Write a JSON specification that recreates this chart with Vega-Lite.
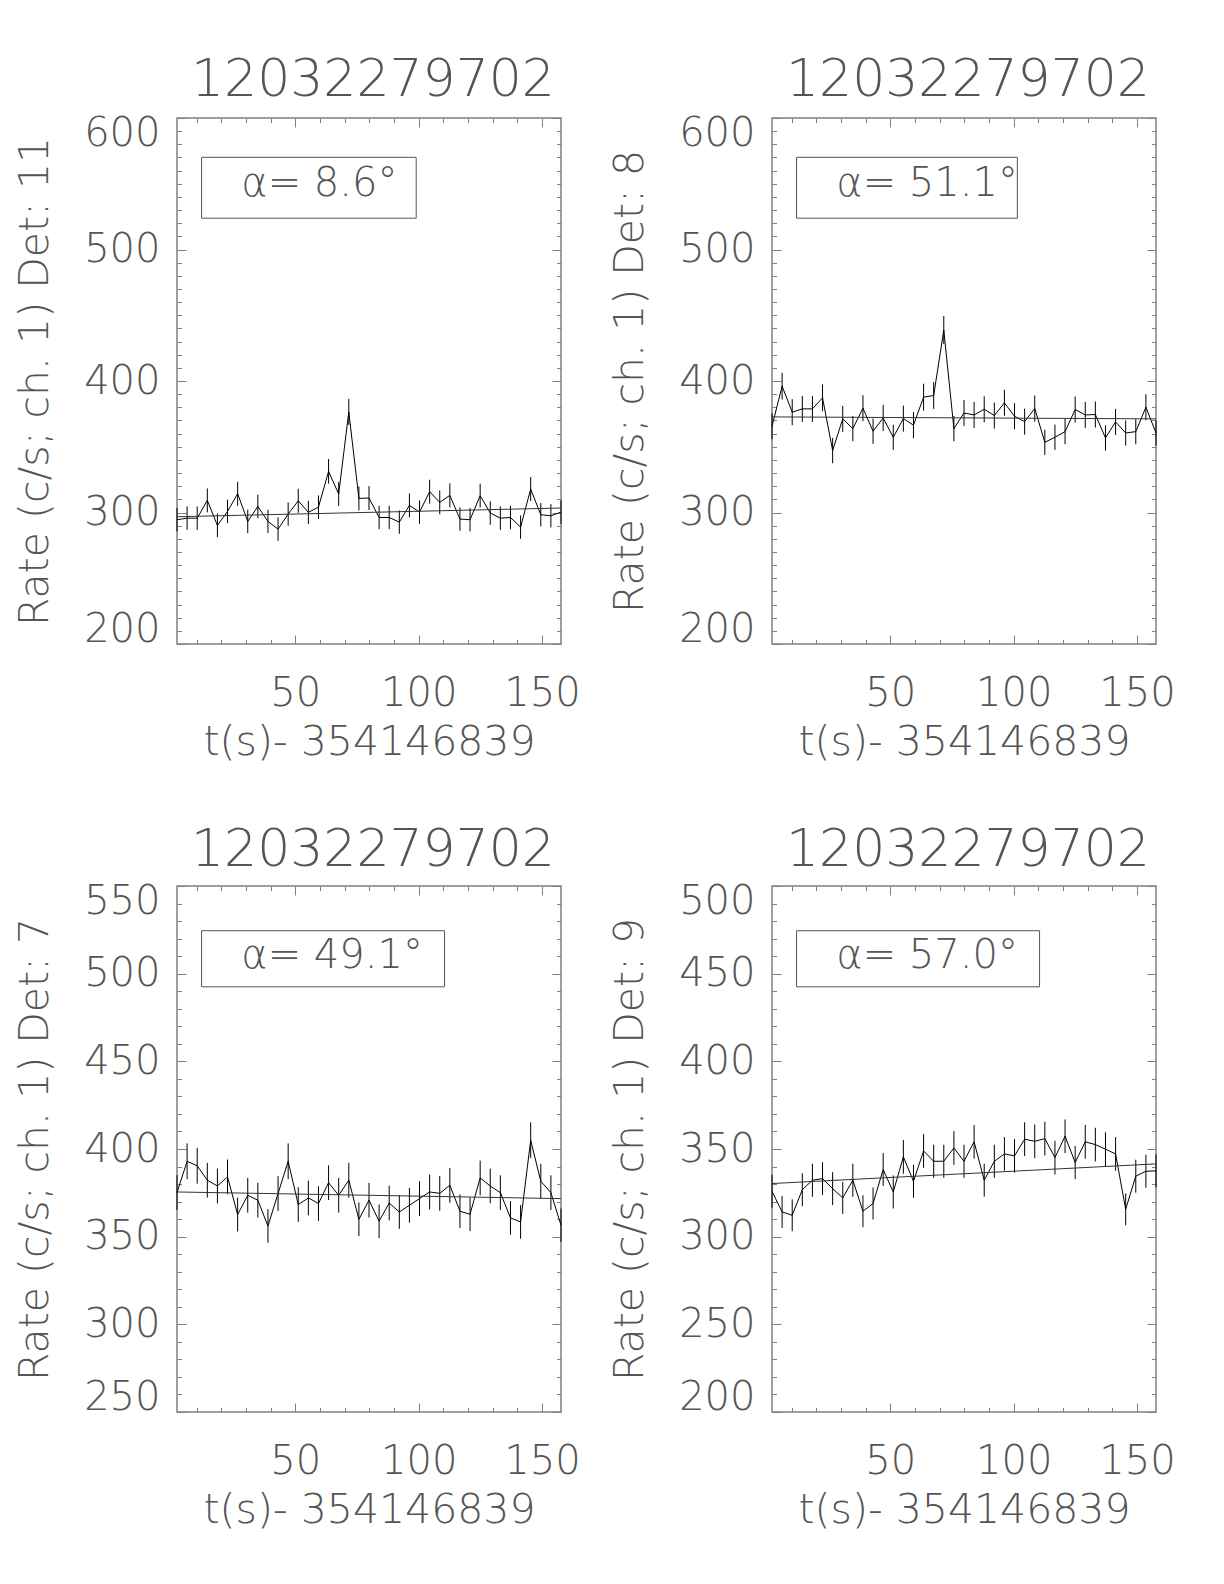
{
  "$schema": "https://vega.github.io/schema/vega-lite/v6.json",
  "padding": {"left": 13, "top": 53, "right": 5, "bottom": 5},
  "bounds": "flush",
  "spacing": {"row": 242, "column": 211},
  "columns": 2,
  "datasets": {
    "pts": [
      {"p":"11","t":2.048,"rate":294.5,"err":8.9},{"p":"11","t":6.144,"rate":295.7,"err":8.9},{"p":"11","t":10.24,"rate":295.7,"err":8.9},{"p":"11","t":14.336,"rate":309.2,"err":9.1},{"p":"11","t":18.432,"rate":290.2,"err":8.9},{"p":"11","t":22.528,"rate":300.8,"err":8.9},{"p":"11","t":26.624,"rate":314.3,"err":9.1},{"p":"11","t":30.72,"rate":293.2,"err":8.9},{"p":"11","t":34.816,"rate":304.6,"err":8.9},{"p":"11","t":38.912,"rate":293.2,"err":8.9},
      {"p":"11","t":43.008,"rate":287.4,"err":8.9},{"p":"11","t":47.104,"rate":298.8,"err":8.9},{"p":"11","t":51.2,"rate":308.9,"err":9.1},{"p":"11","t":55.296,"rate":300.1,"err":8.9},{"p":"11","t":59.392,"rate":304.1,"err":8.9},{"p":"11","t":63.488,"rate":331.3,"err":9.4},{"p":"11","t":67.584,"rate":314.0,"err":9.1},{"p":"11","t":71.68,"rate":376.5,"err":9.9},{"p":"11","t":75.776,"rate":310.7,"err":9.1},{"p":"11","t":79.872,"rate":311.0,"err":9.1},
      {"p":"11","t":83.968,"rate":296.2,"err":8.9},{"p":"11","t":88.064,"rate":296.2,"err":8.9},{"p":"11","t":92.16,"rate":292.7,"err":8.9},{"p":"11","t":96.256,"rate":305.4,"err":9.1},{"p":"11","t":100.352,"rate":300.3,"err":8.9},{"p":"11","t":104.448,"rate":315.8,"err":9.1},{"p":"11","t":108.544,"rate":307.7,"err":9.1},{"p":"11","t":112.64,"rate":313.0,"err":9.1},{"p":"11","t":116.736,"rate":295.0,"err":8.9},{"p":"11","t":120.832,"rate":294.5,"err":8.9},
      {"p":"11","t":124.928,"rate":312.8,"err":9.1},{"p":"11","t":129.024,"rate":299.6,"err":8.9},{"p":"11","t":133.12,"rate":295.7,"err":8.9},{"p":"11","t":137.216,"rate":296.2,"err":8.9},{"p":"11","t":141.312,"rate":288.9,"err":8.9},{"p":"11","t":145.408,"rate":317.8,"err":9.1},{"p":"11","t":149.504,"rate":298.3,"err":8.9},{"p":"11","t":153.6,"rate":297.5,"err":8.9},{"p":"11","t":157.696,"rate":300.3,"err":8.9},

      {"p":"8","t":2.048,"rate":365.6,"err":9.9},{"p":"8","t":6.144,"rate":396.1,"err":10.2},{"p":"8","t":10.24,"rate":376.3,"err":9.9},{"p":"8","t":14.336,"rate":378.8,"err":9.9},{"p":"8","t":18.432,"rate":378.8,"err":9.9},{"p":"8","t":22.528,"rate":387.2,"err":10.2},{"p":"8","t":26.624,"rate":347.1,"err":9.6},{"p":"8","t":30.72,"rate":371.2,"err":9.9},{"p":"8","t":34.816,"rate":363.8,"err":9.6},{"p":"8","t":38.912,"rate":379.3,"err":9.9},
      {"p":"8","t":43.008,"rate":361.8,"err":9.6},{"p":"8","t":47.104,"rate":371.9,"err":9.9},{"p":"8","t":51.2,"rate":357.2,"err":9.6},{"p":"8","t":55.296,"rate":371.4,"err":9.9},{"p":"8","t":59.392,"rate":366.4,"err":9.9},{"p":"8","t":63.488,"rate":387.7,"err":10.2},{"p":"8","t":67.584,"rate":389.0,"err":10.2},{"p":"8","t":71.68,"rate":438.7,"err":10.7},{"p":"8","t":75.776,"rate":363.8,"err":9.6},{"p":"8","t":79.872,"rate":375.7,"err":9.9},
      {"p":"8","t":83.968,"rate":374.2,"err":9.9},{"p":"8","t":88.064,"rate":378.5,"err":9.9},{"p":"8","t":92.16,"rate":373.7,"err":9.9},{"p":"8","t":96.256,"rate":383.4,"err":9.9},{"p":"8","t":100.352,"rate":373.2,"err":9.9},{"p":"8","t":104.448,"rate":369.1,"err":9.9},{"p":"8","t":108.544,"rate":379.1,"err":9.9},{"p":"8","t":112.64,"rate":353.4,"err":9.6},{"p":"8","t":116.736,"rate":357.2,"err":9.6},{"p":"8","t":120.832,"rate":361.5,"err":9.6},
      {"p":"8","t":124.928,"rate":378.3,"err":9.9},{"p":"8","t":129.024,"rate":374.2,"err":9.9},{"p":"8","t":133.12,"rate":374.5,"err":9.9},{"p":"8","t":137.216,"rate":356.7,"err":9.6},{"p":"8","t":141.312,"rate":368.9,"err":9.9},{"p":"8","t":145.408,"rate":360.5,"err":9.6},{"p":"8","t":149.504,"rate":361.5,"err":9.6},{"p":"8","t":153.6,"rate":380.1,"err":9.9},{"p":"8","t":157.696,"rate":360.5,"err":9.6},

      {"p":"7","t":2.048,"rate":375.1,"err":9.9},{"p":"7","t":6.144,"rate":393.0,"err":10.2},{"p":"7","t":10.24,"rate":390.4,"err":10.2},{"p":"7","t":14.336,"rate":382.2,"err":9.9},{"p":"7","t":18.432,"rate":378.9,"err":9.9},{"p":"7","t":22.528,"rate":384.1,"err":9.9},{"p":"7","t":26.624,"rate":362.6,"err":9.6},{"p":"7","t":30.72,"rate":373.6,"err":9.9},{"p":"7","t":34.816,"rate":370.8,"err":9.9},{"p":"7","t":38.912,"rate":356.1,"err":9.6},
      {"p":"7","t":43.008,"rate":374.6,"err":9.9},{"p":"7","t":47.104,"rate":393.0,"err":10.2},{"p":"7","t":51.2,"rate":368.3,"err":9.9},{"p":"7","t":55.296,"rate":372.1,"err":9.9},{"p":"7","t":59.392,"rate":368.9,"err":9.9},{"p":"7","t":63.488,"rate":380.8,"err":9.9},{"p":"7","t":67.584,"rate":373.6,"err":9.9},{"p":"7","t":71.68,"rate":382.2,"err":9.9},{"p":"7","t":75.776,"rate":359.9,"err":9.6},{"p":"7","t":79.872,"rate":370.8,"err":9.9},
      {"p":"7","t":83.968,"rate":358.8,"err":9.6},{"p":"7","t":88.064,"rate":369.2,"err":9.9},{"p":"7","t":92.16,"rate":364.1,"err":9.6},{"p":"7","t":96.256,"rate":367.9,"err":9.9},{"p":"7","t":100.352,"rate":371.7,"err":9.9},{"p":"7","t":104.448,"rate":375.5,"err":9.9},{"p":"7","t":108.544,"rate":374.7,"err":9.9},{"p":"7","t":112.64,"rate":379.3,"err":9.9},{"p":"7","t":116.736,"rate":364.5,"err":9.6},{"p":"7","t":120.832,"rate":362.8,"err":9.6},
      {"p":"7","t":124.928,"rate":383.5,"err":9.9},{"p":"7","t":129.024,"rate":378.9,"err":9.9},{"p":"7","t":133.12,"rate":375.1,"err":9.9},{"p":"7","t":137.216,"rate":360.7,"err":9.6},{"p":"7","t":141.312,"rate":358.4,"err":9.6},{"p":"7","t":145.408,"rate":405.0,"err":10.2},{"p":"7","t":149.504,"rate":381.6,"err":9.9},{"p":"7","t":153.6,"rate":375.1,"err":9.9},{"p":"7","t":157.696,"rate":356.5,"err":9.6},

      {"p":"9","t":2.048,"rate":325.9,"err":9.4},{"p":"9","t":6.144,"rate":314.1,"err":9.1},{"p":"9","t":10.24,"rate":312.2,"err":9.1},{"p":"9","t":14.336,"rate":326.8,"err":9.4},{"p":"9","t":18.432,"rate":332.2,"err":9.4},{"p":"9","t":22.528,"rate":333.1,"err":9.4},{"p":"9","t":26.624,"rate":327.4,"err":9.4},{"p":"9","t":30.72,"rate":322.1,"err":9.1},{"p":"9","t":34.816,"rate":332.2,"err":9.4},{"p":"9","t":38.912,"rate":314.5,"err":9.1},
      {"p":"9","t":43.008,"rate":318.9,"err":9.1},{"p":"9","t":47.104,"rate":338.3,"err":9.4},{"p":"9","t":51.2,"rate":325.5,"err":9.4},{"p":"9","t":55.296,"rate":345.5,"err":9.6},{"p":"9","t":59.392,"rate":331.6,"err":9.4},{"p":"9","t":63.488,"rate":348.9,"err":9.6},{"p":"9","t":67.584,"rate":343.0,"err":9.4},{"p":"9","t":71.68,"rate":343.0,"err":9.4},{"p":"9","t":75.776,"rate":350.6,"err":9.6},{"p":"9","t":79.872,"rate":343.0,"err":9.4},
      {"p":"9","t":83.968,"rate":354.1,"err":9.6},{"p":"9","t":88.064,"rate":332.2,"err":9.4},{"p":"9","t":92.16,"rate":343.0,"err":9.4},{"p":"9","t":96.256,"rate":347.2,"err":9.6},{"p":"9","t":100.352,"rate":346.1,"err":9.6},{"p":"9","t":104.448,"rate":355.6,"err":9.6},{"p":"9","t":108.544,"rate":354.4,"err":9.6},{"p":"9","t":112.64,"rate":355.9,"err":9.6},{"p":"9","t":116.736,"rate":345.1,"err":9.6},{"p":"9","t":120.832,"rate":357.3,"err":9.6},
      {"p":"9","t":124.928,"rate":342.3,"err":9.4},{"p":"9","t":129.024,"rate":354.1,"err":9.6},{"p":"9","t":133.12,"rate":352.5,"err":9.6},{"p":"9","t":137.216,"rate":349.9,"err":9.6},{"p":"9","t":141.312,"rate":347.2,"err":9.6},{"p":"9","t":145.408,"rate":315.6,"err":9.1},{"p":"9","t":149.504,"rate":334.5,"err":9.4},{"p":"9","t":153.6,"rate":337.3,"err":9.4},{"p":"9","t":157.696,"rate":337.5,"err":9.4}
    ],
    "fit": [
      {"p":"11","t":2.048,"fit":296.8},{"p":"11","t":157.696,"fit":303.4},
      {"p":"8","t":2.048,"fit":372.7},{"p":"8","t":157.696,"fit":371.2},
      {"p":"7","t":2.048,"fit":375.5},{"p":"7","t":157.696,"fit":371.7},
      {"p":"9","t":2.048,"fit":330.3},{"p":"9","t":157.696,"fit":341.5}
    ],
    "lab": [
      {"p":"11","label":"α=  8.6°"},
      {"p":"8","label":"α= 51.1°"},
      {"p":"7","label":"α= 49.1°"},
      {"p":"9","label":"α= 57.0°"}
    ]
  },
  "concat": [
    {
      "width": 384, "height": 526,
      "title": "12032279702",
      "layer": [
        {"data": {"name": "pts"}, "transform": [{"filter": "datum.p === '11'"}],
         "mark": {"type": "errorbar", "color": "#000", "thickness": 1},
         "encoding": {
           "x": {"field": "t", "type": "quantitative", "scale": {"domain": [2.048, 157.696], "nice": false, "zero": false},
                 "axis": {"orient": "bottom", "values": [10,20,30,40,50,60,70,80,90,100,110,120,130,140,150], "labelExpr": "datum.value % 50 === 0 ? datum.label : ''", "tickSize": {"condition": {"test": "datum.value % 50 === 0", "value": -9}, "value": -4.5}, "labelPadding": 38, "labelFlush": false, "labelOverlap": false, "title": "t(s)- 354146839", "titlePadding": 5}},
           "y": {"field": "rate", "type": "quantitative", "scale": {"domain": [200, 600], "nice": false, "zero": false},
                 "axis": {"orient": "left", "values": [200,210,220,230,240,250,260,270,280,290,300,310,320,330,340,350,360,370,380,390,400,410,420,430,440,450,460,470,480,490,500,510,520,530,540,550,560,570,580,590,600], "labelExpr": "datum.value % 100 === 0 ? datum.label : ''", "tickSize": {"condition": {"test": "datum.value % 100 === 0", "value": -9}, "value": -4.5}, "labelPadding": 26, "labelFlush": true, "labelFlushOffset": 5, "labelOverlap": false, "title": "Rate (c/s; ch. 1) Det: 11", "titlePadding": 27}},
           "yError": {"field": "err"}
         }},
        {"data": {"name": "pts"}, "transform": [{"filter": "datum.p === '11'"}],
         "mark": {"type": "line", "color": "#000", "strokeWidth": 1},
         "encoding": {
           "x": {"field": "t", "type": "quantitative", "axis": {"orient": "top", "values": [10,20,30,40,50,60,70,80,90,100,110,120,130,140,150], "labels": false, "tickSize": {"condition": {"test": "datum.value % 50 === 0", "value": -9}, "value": -4.5}, "title": null}},
           "y": {"field": "rate", "type": "quantitative", "axis": {"orient": "right", "values": [200,210,220,230,240,250,260,270,280,290,300,310,320,330,340,350,360,370,380,390,400,410,420,430,440,450,460,470,480,490,500,510,520,530,540,550,560,570,580,590,600], "labels": false, "tickSize": {"condition": {"test": "datum.value % 100 === 0", "value": -9}, "value": -4.5}, "title": null}}
         }},
        {"data": {"name": "fit"}, "transform": [{"filter": "datum.p === '11'"}],
         "mark": {"type": "line", "color": "#333", "strokeWidth": 1},
         "encoding": {"x": {"field": "t", "type": "quantitative", "axis": null}, "y": {"field": "fit", "type": "quantitative", "axis": null}}},
        {"data": {"name": "lab"}, "transform": [{"filter": "datum.p === '11'"}],
         "mark": {"type": "rect", "fillOpacity": 0, "stroke": "#555", "strokeWidth": 1},
         "encoding": {"x": {"datum": 12, "type": "quantitative", "axis": null}, "x2": {"datum": 99}, "y": {"datum": 570.1, "type": "quantitative", "axis": null}, "y2": {"datum": 523.8}}},
        {"data": {"name": "lab"}, "transform": [{"filter": "datum.p === '11'"}],
         "mark": {"type": "text", "align": "left", "baseline": "middle", "fontSize": 40, "fontWeight": 200, "color": "#555"},
         "encoding": {"x": {"datum": 28.1, "type": "quantitative", "axis": null}, "y": {"datum": 549.7, "type": "quantitative", "axis": null}, "text": {"field": "label"}}}
      ],
      "resolve": {"axis": {"x": "independent", "y": "independent"}}
    },
    {
      "width": 384, "height": 526,
      "title": "12032279702",
      "layer": [
        {"data": {"name": "pts"}, "transform": [{"filter": "datum.p === '8'"}],
         "mark": {"type": "errorbar", "color": "#000", "thickness": 1},
         "encoding": {
           "x": {"field": "t", "type": "quantitative", "scale": {"domain": [2.048, 157.696], "nice": false, "zero": false},
                 "axis": {"orient": "bottom", "values": [10,20,30,40,50,60,70,80,90,100,110,120,130,140,150], "labelExpr": "datum.value % 50 === 0 ? datum.label : ''", "tickSize": {"condition": {"test": "datum.value % 50 === 0", "value": -9}, "value": -4.5}, "labelPadding": 38, "labelFlush": false, "labelOverlap": false, "title": "t(s)- 354146839", "titlePadding": 5}},
           "y": {"field": "rate", "type": "quantitative", "scale": {"domain": [200, 600], "nice": false, "zero": false},
                 "axis": {"orient": "left", "values": [200,210,220,230,240,250,260,270,280,290,300,310,320,330,340,350,360,370,380,390,400,410,420,430,440,450,460,470,480,490,500,510,520,530,540,550,560,570,580,590,600], "labelExpr": "datum.value % 100 === 0 ? datum.label : ''", "tickSize": {"condition": {"test": "datum.value % 100 === 0", "value": -9}, "value": -4.5}, "labelPadding": 26, "labelFlush": true, "labelFlushOffset": 5, "labelOverlap": false, "title": "Rate (c/s; ch. 1) Det: 8", "titlePadding": 27}},
           "yError": {"field": "err"}
         }},
        {"data": {"name": "pts"}, "transform": [{"filter": "datum.p === '8'"}],
         "mark": {"type": "line", "color": "#000", "strokeWidth": 1},
         "encoding": {
           "x": {"field": "t", "type": "quantitative", "axis": {"orient": "top", "values": [10,20,30,40,50,60,70,80,90,100,110,120,130,140,150], "labels": false, "tickSize": {"condition": {"test": "datum.value % 50 === 0", "value": -9}, "value": -4.5}, "title": null}},
           "y": {"field": "rate", "type": "quantitative", "axis": {"orient": "right", "values": [200,210,220,230,240,250,260,270,280,290,300,310,320,330,340,350,360,370,380,390,400,410,420,430,440,450,460,470,480,490,500,510,520,530,540,550,560,570,580,590,600], "labels": false, "tickSize": {"condition": {"test": "datum.value % 100 === 0", "value": -9}, "value": -4.5}, "title": null}}
         }},
        {"data": {"name": "fit"}, "transform": [{"filter": "datum.p === '8'"}],
         "mark": {"type": "line", "color": "#333", "strokeWidth": 1},
         "encoding": {"x": {"field": "t", "type": "quantitative", "axis": null}, "y": {"field": "fit", "type": "quantitative", "axis": null}}},
        {"data": {"name": "lab"}, "transform": [{"filter": "datum.p === '8'"}],
         "mark": {"type": "rect", "fillOpacity": 0, "stroke": "#555", "strokeWidth": 1},
         "encoding": {"x": {"datum": 12, "type": "quantitative", "axis": null}, "x2": {"datum": 101.5}, "y": {"datum": 570.1, "type": "quantitative", "axis": null}, "y2": {"datum": 523.8}}},
        {"data": {"name": "lab"}, "transform": [{"filter": "datum.p === '8'"}],
         "mark": {"type": "text", "align": "left", "baseline": "middle", "fontSize": 40, "fontWeight": 200, "color": "#555"},
         "encoding": {"x": {"datum": 28.1, "type": "quantitative", "axis": null}, "y": {"datum": 549.7, "type": "quantitative", "axis": null}, "text": {"field": "label"}}}
      ],
      "resolve": {"axis": {"x": "independent", "y": "independent"}}
    },
    {
      "width": 384, "height": 526,
      "title": "12032279702",
      "layer": [
        {"data": {"name": "pts"}, "transform": [{"filter": "datum.p === '7'"}],
         "mark": {"type": "errorbar", "color": "#000", "thickness": 1},
         "encoding": {
           "x": {"field": "t", "type": "quantitative", "scale": {"domain": [2.048, 157.696], "nice": false, "zero": false},
                 "axis": {"orient": "bottom", "values": [10,20,30,40,50,60,70,80,90,100,110,120,130,140,150], "labelExpr": "datum.value % 50 === 0 ? datum.label : ''", "tickSize": {"condition": {"test": "datum.value % 50 === 0", "value": -9}, "value": -4.5}, "labelPadding": 38, "labelFlush": false, "labelOverlap": false, "title": "t(s)- 354146839", "titlePadding": 5}},
           "y": {"field": "rate", "type": "quantitative", "scale": {"domain": [250, 550], "nice": false, "zero": false},
                 "axis": {"orient": "left", "values": [250,260,270,280,290,300,310,320,330,340,350,360,370,380,390,400,410,420,430,440,450,460,470,480,490,500,510,520,530,540,550], "labelExpr": "datum.value % 50 === 0 ? datum.label : ''", "tickSize": {"condition": {"test": "datum.value % 50 === 0", "value": -9}, "value": -4.5}, "labelPadding": 26, "labelFlush": true, "labelFlushOffset": 5, "labelOverlap": false, "title": "Rate (c/s; ch. 1) Det: 7", "titlePadding": 27}},
           "yError": {"field": "err"}
         }},
        {"data": {"name": "pts"}, "transform": [{"filter": "datum.p === '7'"}],
         "mark": {"type": "line", "color": "#000", "strokeWidth": 1},
         "encoding": {
           "x": {"field": "t", "type": "quantitative", "axis": {"orient": "top", "values": [10,20,30,40,50,60,70,80,90,100,110,120,130,140,150], "labels": false, "tickSize": {"condition": {"test": "datum.value % 50 === 0", "value": -9}, "value": -4.5}, "title": null}},
           "y": {"field": "rate", "type": "quantitative", "axis": {"orient": "right", "values": [250,260,270,280,290,300,310,320,330,340,350,360,370,380,390,400,410,420,430,440,450,460,470,480,490,500,510,520,530,540,550], "labels": false, "tickSize": {"condition": {"test": "datum.value % 50 === 0", "value": -9}, "value": -4.5}, "title": null}}
         }},
        {"data": {"name": "fit"}, "transform": [{"filter": "datum.p === '7'"}],
         "mark": {"type": "line", "color": "#333", "strokeWidth": 1},
         "encoding": {"x": {"field": "t", "type": "quantitative", "axis": null}, "y": {"field": "fit", "type": "quantitative", "axis": null}}},
        {"data": {"name": "lab"}, "transform": [{"filter": "datum.p === '7'"}],
         "mark": {"type": "rect", "fillOpacity": 0, "stroke": "#555", "strokeWidth": 1},
         "encoding": {"x": {"datum": 12, "type": "quantitative", "axis": null}, "x2": {"datum": 110.5}, "y": {"datum": 524.5, "type": "quantitative", "axis": null}, "y2": {"datum": 492.5}}},
        {"data": {"name": "lab"}, "transform": [{"filter": "datum.p === '7'"}],
         "mark": {"type": "text", "align": "left", "baseline": "middle", "fontSize": 40, "fontWeight": 200, "color": "#555"},
         "encoding": {"x": {"datum": 28.1, "type": "quantitative", "axis": null}, "y": {"datum": 510.2, "type": "quantitative", "axis": null}, "text": {"field": "label"}}}
      ],
      "resolve": {"axis": {"x": "independent", "y": "independent"}}
    },
    {
      "width": 384, "height": 526,
      "title": "12032279702",
      "layer": [
        {"data": {"name": "pts"}, "transform": [{"filter": "datum.p === '9'"}],
         "mark": {"type": "errorbar", "color": "#000", "thickness": 1},
         "encoding": {
           "x": {"field": "t", "type": "quantitative", "scale": {"domain": [2.048, 157.696], "nice": false, "zero": false},
                 "axis": {"orient": "bottom", "values": [10,20,30,40,50,60,70,80,90,100,110,120,130,140,150], "labelExpr": "datum.value % 50 === 0 ? datum.label : ''", "tickSize": {"condition": {"test": "datum.value % 50 === 0", "value": -9}, "value": -4.5}, "labelPadding": 38, "labelFlush": false, "labelOverlap": false, "title": "t(s)- 354146839", "titlePadding": 5}},
           "y": {"field": "rate", "type": "quantitative", "scale": {"domain": [200, 500], "nice": false, "zero": false},
                 "axis": {"orient": "left", "values": [200,210,220,230,240,250,260,270,280,290,300,310,320,330,340,350,360,370,380,390,400,410,420,430,440,450,460,470,480,490,500], "labelExpr": "datum.value % 50 === 0 ? datum.label : ''", "tickSize": {"condition": {"test": "datum.value % 50 === 0", "value": -9}, "value": -4.5}, "labelPadding": 26, "labelFlush": true, "labelFlushOffset": 5, "labelOverlap": false, "title": "Rate (c/s; ch. 1) Det: 9", "titlePadding": 27}},
           "yError": {"field": "err"}
         }},
        {"data": {"name": "pts"}, "transform": [{"filter": "datum.p === '9'"}],
         "mark": {"type": "line", "color": "#000", "strokeWidth": 1},
         "encoding": {
           "x": {"field": "t", "type": "quantitative", "axis": {"orient": "top", "values": [10,20,30,40,50,60,70,80,90,100,110,120,130,140,150], "labels": false, "tickSize": {"condition": {"test": "datum.value % 50 === 0", "value": -9}, "value": -4.5}, "title": null}},
           "y": {"field": "rate", "type": "quantitative", "axis": {"orient": "right", "values": [200,210,220,230,240,250,260,270,280,290,300,310,320,330,340,350,360,370,380,390,400,410,420,430,440,450,460,470,480,490,500], "labels": false, "tickSize": {"condition": {"test": "datum.value % 50 === 0", "value": -9}, "value": -4.5}, "title": null}}
         }},
        {"data": {"name": "fit"}, "transform": [{"filter": "datum.p === '9'"}],
         "mark": {"type": "line", "color": "#333", "strokeWidth": 1},
         "encoding": {"x": {"field": "t", "type": "quantitative", "axis": null}, "y": {"field": "fit", "type": "quantitative", "axis": null}}},
        {"data": {"name": "lab"}, "transform": [{"filter": "datum.p === '9'"}],
         "mark": {"type": "rect", "fillOpacity": 0, "stroke": "#555", "strokeWidth": 1},
         "encoding": {"x": {"datum": 12, "type": "quantitative", "axis": null}, "x2": {"datum": 110.5}, "y": {"datum": 474.5, "type": "quantitative", "axis": null}, "y2": {"datum": 442.5}}},
        {"data": {"name": "lab"}, "transform": [{"filter": "datum.p === '9'"}],
         "mark": {"type": "text", "align": "left", "baseline": "middle", "fontSize": 40, "fontWeight": 200, "color": "#555"},
         "encoding": {"x": {"datum": 28.1, "type": "quantitative", "axis": null}, "y": {"datum": 460.2, "type": "quantitative", "axis": null}, "text": {"field": "label"}}}
      ],
      "resolve": {"axis": {"x": "independent", "y": "independent"}}
    }
  ],
  "config": {
    "font": "DejaVu Sans",
    "background": "#ffffff",
    "view": {"stroke": "#808080", "strokeWidth": 1.5},
    "axis": {"domain": false, "grid": false, "tickColor": "#808080", "tickWidth": 1,
             "labelFont": "DejaVu Sans", "labelFontSize": 40, "labelFontWeight": 200, "labelColor": "#555555",
             "titleFont": "DejaVu Sans", "titleFontSize": 41, "titleFontWeight": 200, "titleColor": "#555555"},
    "title": {"font": "DejaVu Sans", "fontSize": 52, "fontWeight": 200, "color": "#555555", "offset": 4, "dx": 4, "anchor": "middle"}
  }
}
